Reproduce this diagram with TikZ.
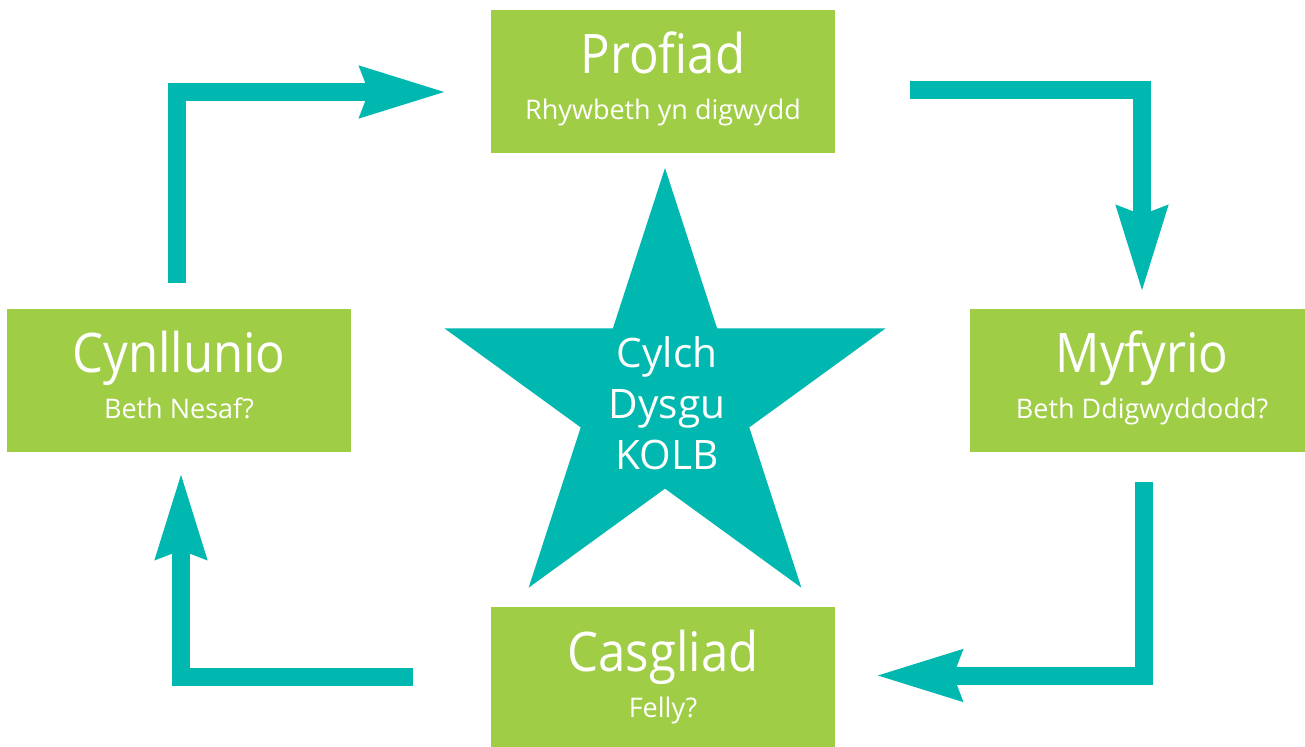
\documentclass[tikz,border=0pt]{standalone}
\usepackage{fontspec}
\setmainfont{Open Sans}
\newfontfamily\headfont{Open Sans}[FakeStretch=0.9]
\usetikzlibrary{shapes.geometric,arrows.meta}
\definecolor{kolbgreen}{HTML}{A0CD46}
\definecolor{kolbteal}{HTML}{00B8AF}
\tikzset{
  stage/.style={fill=kolbgreen,minimum width=172pt,minimum height=71.5pt,inner sep=0pt,outer sep=0pt},
  heading/.style={text=white,inner sep=0pt,anchor=base,font=\headfont\fontsize{27.3}{30}\selectfont},
  subhead/.style={text=white,inner sep=0pt,anchor=base,font=\fontsize{13.5}{16}\selectfont},
  flow/.style={draw=kolbteal,line width=9pt,-{Stealth[length=42.5pt,width=24pt,inset=3.5pt]}},
}
\begin{document}
\begin{tikzpicture}[x=0.5pt,y=-0.5pt]
\useasboundingbox(0,0)rectangle(1305,747);
\clip(0,0)rectangle(1305,747);
% the four stages
\foreach \nm/\cx/\cy/\ttl/\sub in {profiad/663/81.5/Profiad/Rhywbeth yn digwydd,
  myfyrio/1142/380.5/Myfyrio/Beth Ddigwyddodd?,
  casgliad/663/678.5/Casgliad/Felly?,
  cynllunio/179/380.5/Cynllunio/Beth Nesaf?}{
  \node[stage](\nm)at(\cx,\cy){};
  \node[heading](\nm-t)at([yshift=3.75pt]\nm.center){\ttl};
  \node[subhead](\nm-s)at([yshift=-19.25pt]\nm.center){\sub};
}
% star in the middle
\node[star,star points=5,star point ratio=2.618,minimum size=232pt,
  fill=kolbteal,inner sep=0pt,outer sep=0pt](kolb)at(665,400){};
\node[text=white,align=center,inner sep=0pt,font=\fontsize{20.3}{25.5}\selectfont](kolb-t)
  at(667,403){Cylch\\Dysgu\\KOLB};
% ends of the arrows
\coordinate(a1)at([xshift=-1pt,yshift=13pt]cynllunio.north);
\coordinate(b1)at([xshift=-22pt,yshift=-5.25pt]profiad.west);
\coordinate(a2)at([xshift=37.5pt,yshift=-4.25pt]profiad.east);
\coordinate(b2)at([yshift=8pt]myfyrio.north);
\coordinate(a3)at([xshift=1pt,yshift=-15pt]myfyrio.south);
\coordinate(b3)at([xshift=20pt,yshift=1.5pt]casgliad.east);
\coordinate(a4)at([xshift=-39pt,yshift=1pt]casgliad.west);
\coordinate(b4)at([xshift=1pt,yshift=-10pt]cynllunio.south);
\draw[flow](a1)|-(b1);
\draw[flow](a2)-|(b2);
\draw[flow](a3)|-(b3);
\draw[flow](a4)-|(b4);
\end{tikzpicture}
\end{document}
